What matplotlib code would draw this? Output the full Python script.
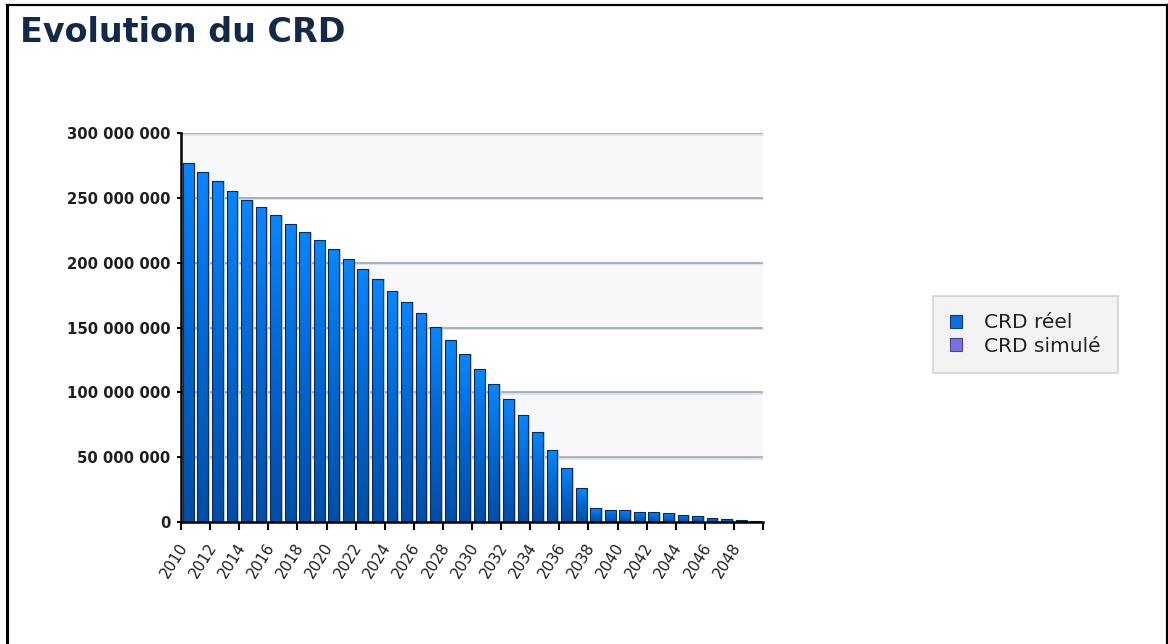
import matplotlib
matplotlib.use("Agg")
import matplotlib.pyplot as plt
import numpy as np
from matplotlib.patches import Patch, Rectangle
from matplotlib.lines import Line2D
from matplotlib.colors import LinearSegmentedColormap
import matplotlib.transforms as mtransforms

years = list(range(2010, 2050))
crd_reel_millions = [276.8, 269.9, 262.7, 255.5, 248.3, 242.6, 236.4, 229.7, 224.0, 217.4,
                     210.7, 202.9, 195.2, 187.2, 178.2, 170.0, 161.0, 150.4, 140.4, 129.3,
                     118.1, 106.7, 94.8, 82.5, 69.3, 55.4, 41.5, 26.0, 10.6, 9.5,
                     9.0, 8.0, 7.5, 6.7, 5.7, 4.6, 3.4, 2.6, 1.5, 0.8]
y_ticks = [0, 50e6, 100e6, 150e6, 200e6, 250e6, 300e6]
series_names = ["CRD réel", "CRD simulé"]
series_colors = ["#0a6ee0", "#7b70e0"]

values = np.array(crd_reel_millions) * 1e6
n = len(years)

fig = plt.figure(figsize=(11.68, 6.44), dpi=100)
ax = fig.add_axes([181/1168, 122/644, (763-181)/1168, (522-133)/644])

# alternating bands
for i in range(len(y_ticks) - 1):
    if i % 2 == 1:
        ax.axhspan(y_ticks[i], y_ticks[i+1], color="#f8f8fa", zorder=0, lw=0)

# gridlines with a light shadow
for yv in y_ticks[1:]:
    ax.axhline(yv - 0.4e6, color="#dde2e8", lw=2.2, zorder=1)
    ax.axhline(yv, color="#93a5ba", lw=1.1, zorder=1.1)

cmap = LinearSegmentedColormap.from_list("g", ["#004ea6", "#0066d0", "#0a86ff"])
grad = np.linspace(0, 1, 256).reshape(-1, 1)
width = 0.74
bars = ax.bar(np.arange(n), values, width=width, color="none",
              edgecolor="#0a2a55", linewidth=0.8, zorder=3)
for i, (b, v) in enumerate(zip(bars, values)):
    x0 = b.get_x()
    ax.add_patch(Rectangle((x0 + 0.12, 0), width, v, facecolor="#cccccc", lw=0, zorder=1.5))
    im = ax.imshow(grad, cmap=cmap, origin="lower", aspect="auto",
                   extent=(x0, x0 + width, 0, v), zorder=2, interpolation="bilinear")
    im.set_clip_path(b)
ax.set_xlim(-0.5, n - 0.5)
ax.set_ylim(0, 300e6)

for s in ["top", "right"]:
    ax.spines[s].set_visible(False)
ax.spines["left"].set_linewidth(1.8)
ax.spines["bottom"].set_linewidth(1.8)
ax.spines["left"].set_zorder(5)
ax.spines["bottom"].set_zorder(5)

ax.set_yticks(y_ticks)
ax.set_yticklabels([f"{int(v):,}".replace(",", " ") for v in y_ticks],
                   fontweight="bold", fontsize=10.7, family="DejaVu Sans", color="#1e1e1e")
ax.tick_params(axis="y", length=3, width=1.5, pad=4.5)

# ticks at category boundaries every two years, labelled with the following year
ax.set_xticks(np.arange(-0.5, n - 1, 2))
ax.set_xticklabels([str(y) for y in years[::2]], rotation=58,
                   ha="right", va="center", rotation_mode="anchor", fontsize=10.8,
                   color="#1e1e1e")
ax.tick_params(axis="x", which="major", length=6, width=1.5, direction="out", pad=10)
ax.set_xticks([n - 0.5], minor=True)
ax.tick_params(axis="x", which="minor", length=6, width=1.5, direction="out")
offset = mtransforms.ScaledTranslation(3/100, 0, fig.dpi_scale_trans)
for lab in ax.get_xticklabels():
    lab.set_transform(lab.get_transform() + offset)

# title
fig.text(20/1168, 1 - 32/644, "Evolution du CRD", fontsize=24, fontweight="bold",
         color="#13294a", ha="left", va="center", family="DejaVu Sans")

# legend
handles = [Patch(facecolor=series_colors[0], edgecolor="#1a3a6a", lw=0.8),
           Patch(facecolor=series_colors[1], edgecolor="#4a4a8a", lw=0.8)]
leg = fig.legend(handles, series_names, loc="center left",
                 bbox_to_anchor=(933/1168, 1 - 334.5/644), fontsize=14.5,
                 frameon=True, fancybox=False, handlelength=0.6, handleheight=0.6,
                 borderpad=0.85, labelspacing=0.2, handletextpad=1.1, borderaxespad=0)
leg.get_frame().set_facecolor("#f0f0f0")
leg.get_frame().set_edgecolor("#c8c8c8")
leg.get_frame().set_linewidth(1.2)
for t in leg.get_texts():
    t.set_color("#222222")

# figure frame lines (left, top, right)
fig.add_artist(Line2D([7/1168, 7/1168], [0, 1 - 5/644], transform=fig.transFigure,
                      color="black", lw=2.2))
fig.add_artist(Line2D([7/1168, 1167/1168], [1 - 5/644, 1 - 5/644], transform=fig.transFigure,
                      color="black", lw=1.6))
fig.add_artist(Line2D([1166.5/1168, 1166.5/1168], [0, 1 - 5/644], transform=fig.transFigure,
                      color="black", lw=1.6))

fig.savefig("out.png", dpi=100)
